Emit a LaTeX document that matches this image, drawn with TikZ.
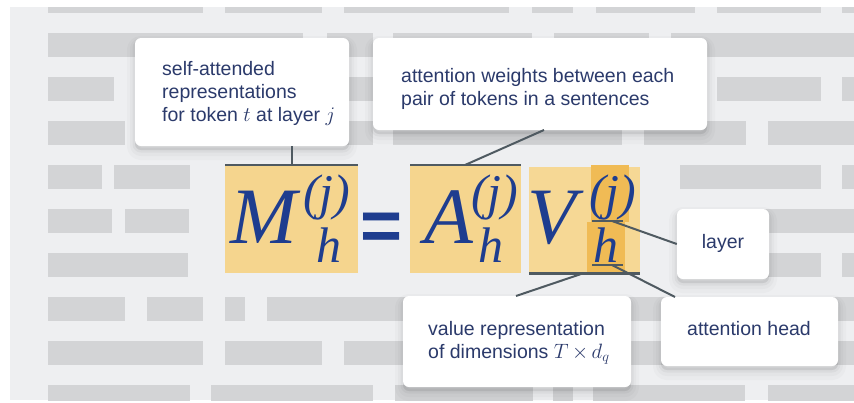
\documentclass[tikz,border=0pt]{standalone}
\usepackage{fontspec}
\setmainfont{Liberation Sans}
\newfontfamily\eqfont{Liberation Serif}
\newfontfamily\eqsans{Liberation Sans}
\definecolor{panel}{HTML}{EEEFF1}
\definecolor{bar}{HTML}{D3D4D6}
\definecolor{gold}{HTML}{F5D58E}
\definecolor{goldv}{HTML}{F6D895}
\definecolor{hilite}{HTML}{F0BB55}
\definecolor{eqblue}{HTML}{1E3D8F}
\definecolor{txtblue}{HTML}{2B3A6B}
\definecolor{conn}{HTML}{4F5A61}
\tikzset{
  wbox/.style={fill=white, draw=none, rounded corners=6pt, inner sep=0pt,
    preaction={draw=black, draw opacity=0.02, line width=16pt, transform canvas={yshift=-6pt}},
    preaction={draw=black, draw opacity=0.025, line width=10pt, transform canvas={yshift=-5pt}},
    preaction={draw=black, draw opacity=0.035, line width=5pt, transform canvas={yshift=-4pt}},
    preaction={fill=black, fill opacity=0.08, transform canvas={yshift=-4pt}}},
  ybox/.style={fill=gold, draw=none, inner sep=0pt, anchor=north west},
  hbox/.style={fill=hilite, draw=none, inner sep=0pt, anchor=north west},
  lbl/.style={text=txtblue, inner sep=0pt, align=left, font=\fontsize{19.5}{23}\selectfont},
  eqbig/.style={text=eqblue, inner sep=0pt, anchor=base west, font=\eqfont\itshape\fontsize{80}{80}\selectfont},
  eqsmall/.style={text=eqblue, inner sep=0pt, anchor=base west, font=\eqfont\itshape\fontsize{50}{50}\selectfont},
  connline/.style={draw=conn, line width=2pt},
  edge/.style={draw=conn, line width=2.2pt},
}
\begin{document}
\begin{tikzpicture}[x=1pt,y=-1pt]
\useasboundingbox (0,0) rectangle (854,402);
\fill[white] (0,0) rectangle (854,402);
\fill[panel] (10,7) rectangle (854,400);
\begin{scope}
\clip (10,7) rectangle (854,400);
\foreach \a/\b in {48/203,225/322,344/509,532/573,596/695,717/821,842/860} \fill[bar] (\a,-11) rectangle (\b,13);
\foreach \a/\b in {48/303,327/373,393/532,554/649,671/860} \fill[bar] (\a,33) rectangle (\b,57);
\foreach \a/\b in {48/114,135/373,393/700,717/821,842/860} \fill[bar] (\a,77) rectangle (\b,101);
\foreach \a/\b in {48/125,147/373,393/622,644/746,768/860} \fill[bar] (\a,121) rectangle (\b,145);
\foreach \a/\b in {48/102,114/190,680/821,842/860} \fill[bar] (\a,165) rectangle (\b,189);
\foreach \a/\b in {48/112,125/189,690/860} \fill[bar] (\a,209) rectangle (\b,233);
\foreach \a/\b in {48/188,700/821,842/860} \fill[bar] (\a,253) rectangle (\b,277);
\foreach \a/\b in {48/125,147/203,225/245,267/700,780/860} \fill[bar] (\a,297) rectangle (\b,321);
\foreach \a/\b in {48/203,225/322,344/700,780/860} \fill[bar] (\a,341) rectangle (\b,365);
\foreach \a/\b in {48/190,211/373,395/533,553/573,593/745,768/860} \fill[bar] (\a,385) rectangle (\b,409);
\end{scope}

% yellow term boxes
\node[ybox, minimum width=133pt, minimum height=108pt] (mbox) at (225,165) {};
\node[ybox, minimum width=111pt, minimum height=108pt] (abox) at (410,165) {};
\node[ybox, fill=goldv, minimum width=111pt, minimum height=106pt] (vbox) at (529,167) {};
\node[hbox, minimum width=38pt, minimum height=57pt] (jhl) at (591,165) {};
\node[hbox, minimum width=38pt, minimum height=51pt] (hhl) at (587,222) {};

% equation
\node[eqbig] (M) at (230,243) {M};
\node[eqsmall] (Mj) at (303,209) {(j)};
\node[eqsmall] (Mh) at (316,262) {h};
\node[text=eqblue, inner sep=0pt, anchor=base, font=\eqsans\bfseries\fontsize{72}{72}\selectfont] (eq) at (382,250) {=};
\node[eqbig] (A) at (424,243) {A};
\node[eqsmall] (Aj) at (471,209) {(j)};
\node[eqsmall] (Ah) at (478,262) {h};
\node[eqbig] (V) at (527,243) {V};
\node[eqsmall] (Vj) at (589,209) {(j)};
\node[eqsmall] (Vh) at (593,262) {h};

% edges of term boxes
\draw[edge] (mbox.north west) -- (mbox.north east);
\draw[edge] (abox.north west) -- (abox.north east);
\draw[edge] (vbox.south west) -- (vbox.south east);
\coordinate (ju1) at (592,221);
\coordinate (ju2) at (623,221);
\coordinate (hu1) at (592,265);
\coordinate (hu2) at (623,265);
\draw[edge] (ju1) -- (ju2);
\draw[edge] (hu1) -- (hu2);

% white boxes
\node[wbox, minimum width=214pt, minimum height=108pt] (b1) at (242,92) {};
\node[wbox, minimum width=334pt, minimum height=92pt] (b2) at (540,84) {};
\node[wbox, minimum width=92pt, minimum height=70pt] (b3) at (723,244) {};
\node[wbox, minimum width=177pt, minimum height=69pt] (b4) at (749.5,331.5) {};
\node[wbox, minimum width=228pt, minimum height=91pt] (b5) at (517,341.5) {};

\node[lbl, anchor=north west] (t1) at (162,61) {self-attended\\representations\\for token $t$ at layer $j$};
\node[lbl, anchor=north west] (t2) at (401,68) {attention weights between each\\pair of tokens in a sentences};
\node[lbl, anchor=base] (t3) at (723,248) {layer};
\node[lbl, anchor=base] (t4) at (749,335) {attention head};
\node[lbl, anchor=north west] (t5) at (428,321) {value representation\\of dimensions $T\,{\times}\,d_q$};

% connectors
\coordinate (mtop) at (292,165);
\draw[connline] (mtop |- b1.south) -- (mtop);
\coordinate (b2foot) at (544,130);
\coordinate (atop) at (465,165);
\draw[connline] (b2foot) -- (atop);
\coordinate (vbot) at (584,273);
\coordinate (b5top) at (516,296);
\draw[connline] (vbot) -- (b5top);
\coordinate (jstart) at (612,221);
\draw[connline] (jstart) -- (b3.west);
\coordinate (hstart) at (612,265);
\coordinate (b4top) at (675,297);
\draw[connline] (hstart) -- (b4top);
\end{tikzpicture}
\end{document}
